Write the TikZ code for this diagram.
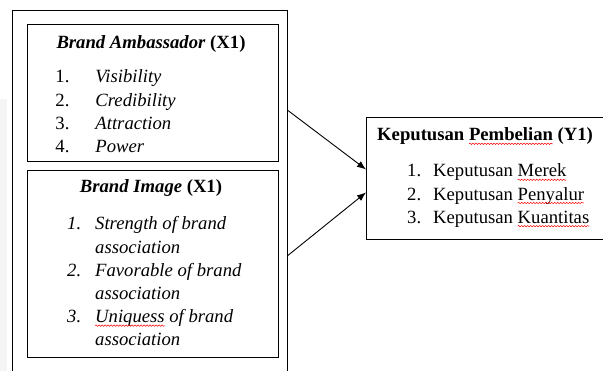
\documentclass[tikz,border=0pt]{standalone}
\usepackage{fontspec}
\setmainfont{Liberation Serif}
\usepackage{tikz}
\usetikzlibrary{decorations.pathmorphing}
\usetikzlibrary{arrows.meta}

% red wavy underline of a word
\newcommand\spellwave[1]{\tikz[baseline=(w.base)]{\node[inner sep=0pt,outer sep=0pt] (w) {#1};
  \draw[red,overlay,line width=0.5pt,decorate,decoration={snake,amplitude=0.7pt,segment length=3pt}]
    ([yshift=-2.8pt]w.base west) -- ([yshift=-2.8pt]w.base east);}}

\begin{document}
\begin{tikzpicture}[x=1pt,y=-1pt,line width=0.9pt,
    box/.style={draw=black,inner sep=0pt,anchor=north west},
    lst/.style={anchor=base west,inner sep=0pt,font=\fontsize{18.67}{23.2}\selectfont}]
\useasboundingbox (0,0) rectangle (603,371);
\clip (0,0) rectangle (603,371);
\fill[gray!8] (0,99) rectangle (7,371);

% boxes
\node[box,minimum width=275pt,minimum height=380pt] (grp) at (12,10) {};
\node[box,minimum width=251pt,minimum height=137pt] (amb) at (27,24) {};
\node[box,minimum width=251pt,minimum height=187pt] (img) at (27,170) {};
\node[box,minimum width=260pt,minimum height=122pt] (kp) at (366,117) {};

% X1: brand ambassador
\node[lst,anchor=base] (ambT) at (151,49) {\textbf{\textit{Brand Ambassador} (X1)}};
\node[lst] (ambL) at (55,83) {\begin{tabular}[t]{@{}l@{}}
    \makebox[40pt][l]{1.}\textit{Visibility}\\
    \makebox[40pt][l]{2.}\textit{Credibility}\\
    \makebox[40pt][l]{3.}\textit{Attraction}\\
    \makebox[40pt][l]{4.}\textit{Power}
  \end{tabular}};

% X1: brand image
\node[lst,anchor=base] (imgT) at (151,193) {\textbf{\textit{Brand Image} (X1)}};
\node[lst] (imgL) at (67,230) {\itshape\begin{tabular}[t]{@{}l@{}}
    \makebox[28pt][l]{1.}Strength of brand\\
    \makebox[28pt][l]{}association\\
    \makebox[28pt][l]{2.}Favorable of brand\\
    \makebox[28pt][l]{}association\\
    \makebox[28pt][l]{3.}\spellwave{Uniquess} of brand\\
    \makebox[28pt][l]{}association
  \end{tabular}};

% Y1
\node[lst] (kpT) at (377,141) {\textbf{Keputusan \spellwave{Pembelian} (Y1)}};
\node[lst] (kpL) at (407,177) {\begin{tabular}[t]{@{}l@{}}
    \makebox[26pt][l]{1.}Keputusan \spellwave{Merek}\\
    \makebox[26pt][l]{2.}Keputusan \spellwave{Penyalur}\\
    \makebox[26pt][l]{3.}Keputusan \spellwave{Kuantitas}
  \end{tabular}};

\coordinate (o1) at ([yshift=90pt]grp.east);
\coordinate (o2) at ([yshift=-55pt]grp.east);
\draw[-{Latex[length=9pt,width=7pt]}] (o1) -- ([yshift=9pt]kp.west);
\draw[-{Latex[length=9pt,width=7pt]}] (o2) -- ([yshift=-14pt]kp.west);
\end{tikzpicture}
\end{document}
